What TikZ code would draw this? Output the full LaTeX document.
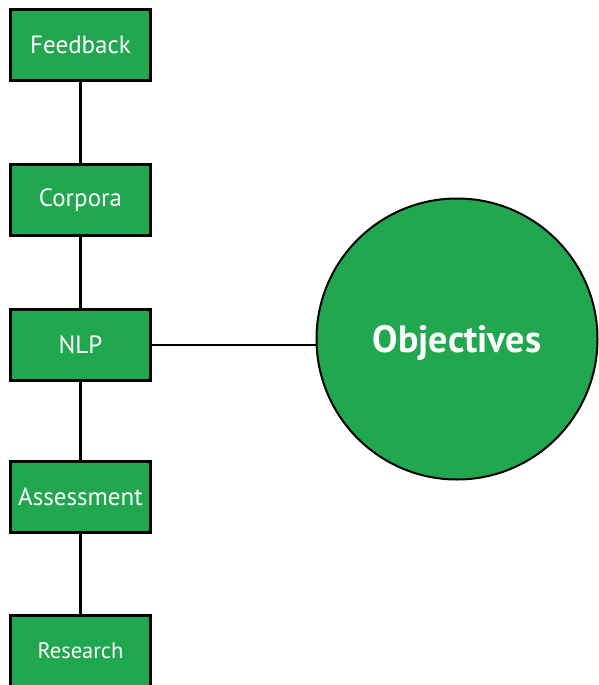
\documentclass[tikz,border=0pt]{standalone}
\usepackage{fontspec}
\setmainfont{PT Sans}
\definecolor{leaf}{RGB}{33,167,80}
\begin{document}
\begin{tikzpicture}[x=1pt,y=-1pt,
  stepbox/.style={draw=black, line width=3pt, fill=leaf, text=white,
    minimum width=140pt, minimum height=71pt, inner sep=0pt,
    font=\fontsize{25}{30}\selectfont},
  hub/.style={circle, draw=black, line width=2pt, fill=leaf, text=white,
    minimum size=281pt, inner sep=0pt, text depth=0pt,
    font=\fontsize{38}{44}\selectfont\bfseries},
  link/.style={line width=2.2pt}]
\useasboundingbox (0,0) rectangle (599,685);
\clip (0,0) rectangle (599,685);
% the column of steps
\node[stepbox] (feedback) at (80.5,45) {Feedback};
\node[stepbox] (corpora) at (80.5,200) {Corpora};
\node[stepbox] (nlp) at (80.5,345) {NLP};
\node[stepbox] (assess) at (80.5,497) {Assessment};
\node[stepbox, font=\fontsize{22.5}{27}\selectfont] (research) at (80.5,651) {Research};
% the goal circle
\node[hub] (obj) at (457,339) {Objectives};
% connectors
\draw[link] (feedback.south) -- (corpora.north);
\draw[link] (corpora.south) -- (nlp.north);
\draw[link] (nlp.south) -- (assess.north);
\draw[link] (assess.south) -- (research.north);
\draw[link] (nlp.east) -- (obj.west |- nlp.east);
\end{tikzpicture}
\end{document}
